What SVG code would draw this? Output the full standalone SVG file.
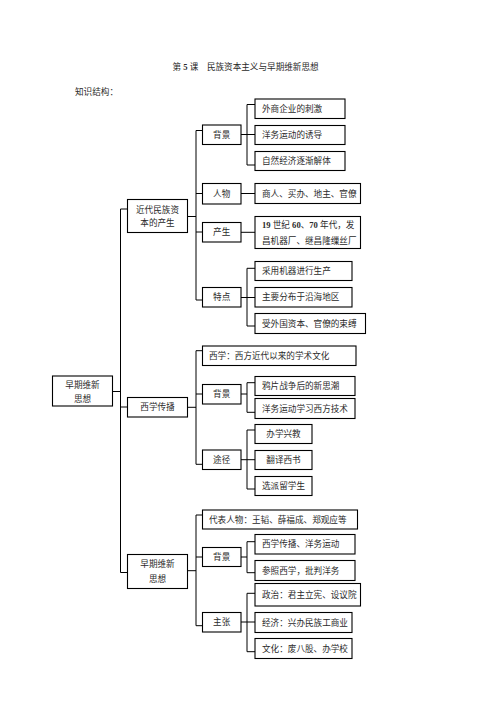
<svg xmlns="http://www.w3.org/2000/svg" width="496" height="702" viewBox="0 0 496 702">
<style>
.b{fill:#fff;stroke:#000;stroke-width:1.1}
.t{font-family:"Liberation Serif","Noto Sans CJK SC",serif;font-size:8.6px;fill:#2a2a2a}
.c{text-anchor:middle}
.n{font-weight:bold}
#connectors path{fill:none;stroke:#000;stroke-width:1}
</style>
<rect width="496" height="702" fill="#fff"/>
<text class="t" x="172.5" y="70">第 <tspan class="n">5</tspan> 课　民族资本主义与早期维新思想</text>
<text class="t" x="75" y="95">知识结构：</text>
<g id="connectors">
<path d="M113 391.5H120.5M120.5 209V572.5M120.5 209H127.5M120.5 407H127.5M120.5 572.5H127.5"/>
<path d="M187.5 216.5H196M196 130.5V300M196 130.5H202.5M196 193.5H202.5M196 232H202.5M196 300H202.5"/>
<path d="M241 134.5H255M247 104.5V165M247 104.5H255M247 165H255"/>
<path d="M241 193.5H255M241 232.3H255"/>
<path d="M241 297.5H255M247 268.3V326M247 268.3H255M247 326H255"/>
<path d="M187.5 407.3H196M196 350.7V464.3M196 350.7H202.5M196 394H202.5M196 464.3H202.5"/>
<path d="M241 394H247M247 382.7V412.3M247 382.7H255M247 412.3H255"/>
<path d="M241 459.7H255M247 430V489M247 430H255M247 489H255"/>
<path d="M187.5 570.7H196M196 515V625.7M196 515H202.5M196 557H202.5M196 625.7H202.5"/>
<path d="M241 557H247M247 541.7V572.7M247 541.7H255M247 572.7H255"/>
<path d="M241 622H255M247 593.3V651.7M247 593.3H255M247 651.7H255"/>
</g>
<g id="root"><rect class="b" x="52.5" y="376" width="60" height="30"/><text class="t c" x="82.5" y="388.2">早期维新</text><text class="t c" x="82.5" y="401.5">思想</text></g>
<g id="n-jindai"><rect class="b" x="127.5" y="199.5" width="60" height="33"/><text class="t c" x="157.5" y="212.5">近代民族资</text><text class="t c" x="157.5" y="226">本的产生</text></g>
<g id="n-xixue"><rect class="b" x="127.5" y="397.5" width="60" height="19.5"/><text class="t c" x="157.5" y="410.3">西学传播</text></g>
<g id="n-zaoqi"><rect class="b" x="127.5" y="554.5" width="60" height="34"/><text class="t c" x="157.5" y="566.5">早期维新</text><text class="t c" x="157.5" y="581.5">思想</text></g>
<g id="n-bj1"><rect class="b" x="202.5" y="125" width="38.5" height="19.5"/><text class="t c" x="221.7" y="137.9">背景</text></g>
<g id="n-renwu"><rect class="b" x="202.5" y="183.5" width="38.5" height="20.5"/><text class="t c" x="221.7" y="196.9">人物</text></g>
<g id="n-chansheng"><rect class="b" x="202.5" y="222.5" width="38.5" height="19.5"/><text class="t c" x="221.7" y="235.4">产生</text></g>
<g id="n-tedian"><rect class="b" x="202.5" y="287.5" width="38.5" height="19.5"/><text class="t c" x="221.7" y="300.4">特点</text></g>
<g id="n-xixue2"><rect class="b" x="202.5" y="346" width="153.5" height="19.5"/><text class="t" x="209" y="358.9">西学：西方近代以来的学术文化</text></g>
<g id="n-bj2"><rect class="b" x="202.5" y="384.5" width="38.5" height="19.5"/><text class="t c" x="221.7" y="397.4">背景</text></g>
<g id="n-tujing"><rect class="b" x="202.5" y="450" width="38.5" height="19.5"/><text class="t c" x="221.7" y="462.9">途径</text></g>
<g id="n-daibiao"><rect class="b" x="202.5" y="510" width="155" height="19"/><text class="t" x="209" y="522.7">代表人物：王韬、薛福成、郑观应等</text></g>
<g id="n-bj3"><rect class="b" x="202.5" y="547.5" width="38.5" height="19"/><text class="t c" x="221.7" y="560.2">背景</text></g>
<g id="n-zhuzhang"><rect class="b" x="202.5" y="612.5" width="38.5" height="19.5"/><text class="t c" x="221.7" y="625.4">主张</text></g>
<g id="l1"><rect class="b" x="255" y="99" width="90" height="19.5"/><text class="t" x="262" y="111.9">外商企业的刺激</text></g>
<g id="l2"><rect class="b" x="255" y="125.5" width="90" height="19"/><text class="t" x="262" y="138.2">洋务运动的诱导</text></g>
<g id="l3"><rect class="b" x="255" y="151.5" width="90" height="19"/><text class="t" x="262" y="164.2">自然经济逐渐解体</text></g>
<g id="l4"><rect class="b" x="255" y="183.5" width="105.5" height="20"/><text class="t" x="262" y="196.7">商人、买办、地主、官僚</text></g>
<g id="l5"><rect class="b" x="255" y="216.5" width="105.5" height="32"/><text class="t" x="262" y="228.2"><tspan class="n">19</tspan> 世纪 <tspan class="n">60</tspan>、<tspan class="n">70</tspan> 年代，发</text><text class="t" x="262" y="243.8">昌机器厂、继昌隆缫丝厂</text></g>
<g id="l6"><rect class="b" x="255" y="261.5" width="97" height="19"/><text class="t" x="262" y="274.2">采用机器进行生产</text></g>
<g id="l7"><rect class="b" x="255" y="287.5" width="97" height="19.5"/><text class="t" x="262" y="300.4">主要分布于沿海地区</text></g>
<g id="l8"><rect class="b" x="255" y="313.5" width="110.5" height="20"/><text class="t" x="262" y="326.7">受外国资本、官僚的束缚</text></g>
<g id="l9"><rect class="b" x="255" y="376.5" width="100" height="19"/><text class="t" x="262" y="389.2">鸦片战争后的新思潮</text></g>
<g id="l10"><rect class="b" x="255" y="398.5" width="100" height="20"/><text class="t" x="262" y="411.7">洋务运动学习西方技术</text></g>
<g id="l11"><rect class="b" x="255" y="424.5" width="57" height="19"/><text class="t c" x="283.5" y="437.2">办学兴教</text></g>
<g id="l12"><rect class="b" x="255" y="450.5" width="57" height="19"/><text class="t c" x="283.5" y="463.2">翻译西书</text></g>
<g id="l13"><rect class="b" x="255" y="476.5" width="57" height="19"/><text class="t c" x="283.5" y="489.2">选派留学生</text></g>
<g id="l14"><rect class="b" x="255" y="534.5" width="100" height="19.5"/><text class="t" x="262" y="547.4">西学传播、洋务运动</text></g>
<g id="l15"><rect class="b" x="255" y="560.5" width="100" height="20"/><text class="t" x="262" y="573.7">参照西学，批判洋务</text></g>
<g id="l16"><rect class="b" x="255" y="583.5" width="105.5" height="22.5"/><text class="t" x="262" y="597.9">政治：君主立宪、设议院</text></g>
<g id="l17"><rect class="b" x="255" y="612.5" width="97" height="20"/><text class="t" x="262" y="625.7">经济：兴办民族工商业</text></g>
<g id="l18"><rect class="b" x="255" y="638.5" width="97" height="20"/><text class="t" x="262" y="651.7">文化：废八股、办学校</text></g>
</svg>
